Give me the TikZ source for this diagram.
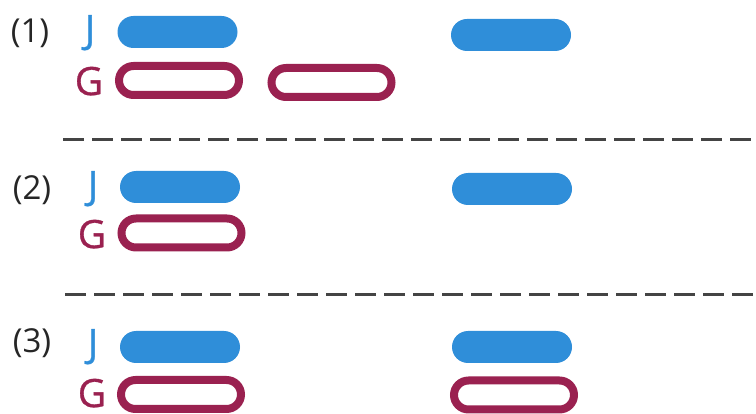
\documentclass[tikz,border=0pt]{standalone}
\usepackage{fontspec}
\setmainfont{Open Sans}
\newfontfamily\markfont[FakeBold=0.8]{Open Sans}
\usepackage{xcolor}
\usetikzlibrary{positioning}

\definecolor{jblue}{HTML}{2F8ED9}
\definecolor{gred}{HTML}{9A2150}
\definecolor{sepgray}{HTML}{444444}

\tikzset{
  jbar/.style={fill=jblue, minimum width=120pt, minimum height=32pt, rounded corners=16pt, inner sep=0pt},
  gbar/.style={draw=gred, line width=8pt, minimum width=120pt, minimum height=29pt, rounded corners=14.5pt, inner sep=0pt},
  rowlabel/.style={anchor=base, inner sep=0pt, text depth=0pt, text=black!85, font=\fontsize{33}{36}\selectfont},
  jlabel/.style={anchor=base, inner sep=0pt, text depth=0pt, text=jblue, font=\markfont\fontsize{39}{42}\selectfont},
  glabel/.style={anchor=base, inner sep=0pt, text depth=0pt, text=gred, font=\markfont\fontsize{39}{42}\selectfont},
  sepline/.style={draw=sepgray, line width=3pt, dash pattern=on 21pt off 8pt}
}

\begin{document}
\begin{tikzpicture}[x=1pt, y=-1pt]
\useasboundingbox (0,0) rectangle (756,414);

% Case (1)
\node[rowlabel] (r1) at (30,43) {(1)};
\node[jlabel] (j1) at (90,43) {J};
\node[glabel] (g1) at (89,95) {G};
\node[jbar] (j1a) at (177.5,32) {};
\node[jbar] (j1b) at (511,35) {};
\node[gbar] (g1a) at (179,80.5) {};
\node[gbar] (g1b) at (331.5,82.5) {};

\coordinate (s1a) at (63,140);
\coordinate (s1b) at (756,140);
\draw[sepline] (s1a) -- (s1b);

% Case (2)
\node[rowlabel] (r2) at (32,200) {(2)};
\node[jlabel] (j2) at (93,199) {J};
\node[glabel] (g2) at (92,248) {G};
\node[jbar] (j2a) at (180,187) {};
\node[jbar] (j2b) at (512,189) {};
\node[gbar] (g2a) at (181.5,233) {};

\coordinate (s2a) at (65,295);
\coordinate (s2b) at (756,295);
\draw[sepline] (s2a) -- (s2b);

% Case (3)
\node[rowlabel] (r3) at (32,353) {(3)};
\node[jlabel] (j3) at (93,357) {J};
\node[glabel] (g3) at (92,407) {G};
\node[jbar] (j3a) at (180,347) {};
\node[jbar] (j3b) at (512,347) {};
\node[gbar] (g3a) at (181,394.5) {};
\node[gbar] (g3b) at (514,395) {};
\end{tikzpicture}
\end{document}
